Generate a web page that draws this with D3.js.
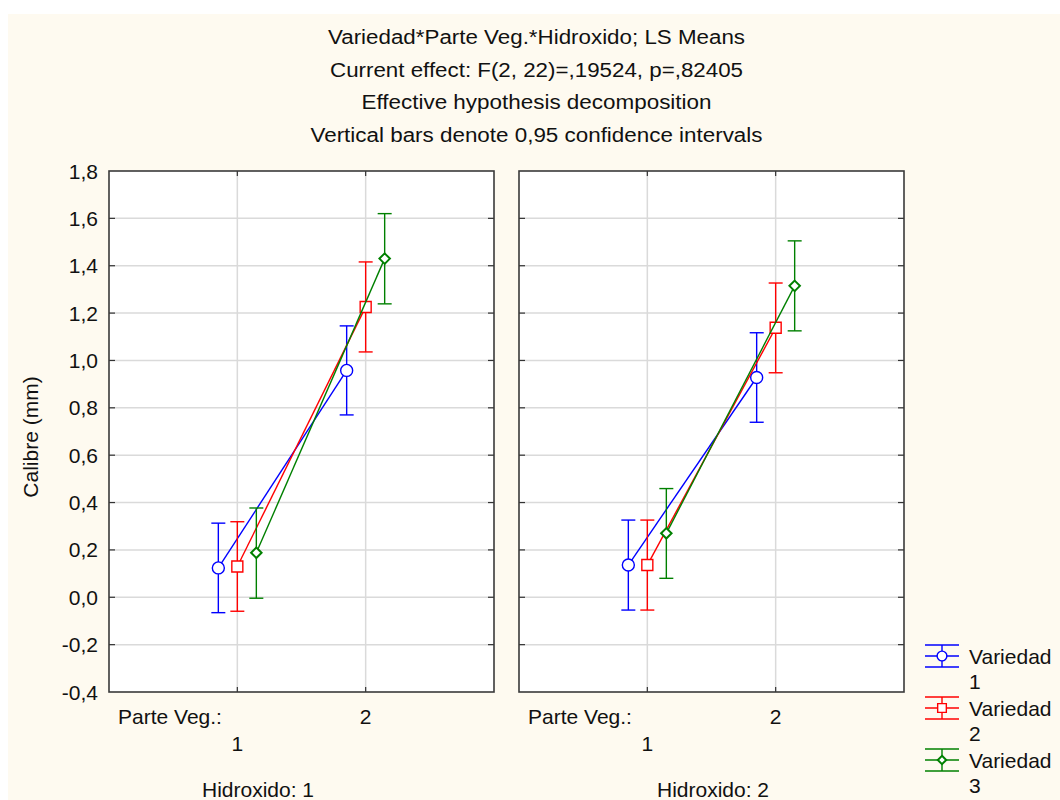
<!DOCTYPE html>
<html>
<head>
<meta charset="utf-8">
<script src="https://cdn.jsdelivr.net/npm/d3@7"></script>
<style>
  html, body { margin: 0; padding: 0; background: #ffffff; }
  svg text { font-family: Arial, "Liberation Sans", sans-serif; fill: #111; }
</style>
</head>
<body>
<svg id="chart" width="1060" height="800"></svg>
<script>
// ---- data ----------------------------------------------------------------
const titleLines = [
  "Variedad*Parte Veg.*Hidroxido; LS Means",
  "Current effect: F(2, 22)=,19524, p=,82405",
  "Effective hypothesis decomposition",
  "Vertical bars denote 0,95 confidence intervals"
];
const varieties = ["Variedad 1", "Variedad 2", "Variedad 3"];
const varietyNum = ["1", "2", "3"];
const parteVeg = ["1", "2"];
const hidroxido = ["1", "2"];
const yTicks = [-0.4, -0.2, 0.0, 0.2, 0.4, 0.6, 0.8, 1.0, 1.2, 1.4, 1.6, 1.8];

// LS means per variety, indexed by Parte Veg. (1, 2)
const meansH1 = [[0.124, 0.958], [0.130, 1.226], [0.188, 1.430]];
const meansH2 = [[0.136, 0.928], [0.136, 1.138], [0.270, 1.315]];
// 0,95 confidence limits
const lowerH1 = [[-0.065, 0.770], [-0.059, 1.036], [-0.004, 1.239]];
const upperH1 = [[0.313, 1.146], [0.319, 1.416], [0.377, 1.620]];
const lowerH2 = [[-0.054, 0.739], [-0.054, 0.948], [0.080, 1.125]];
const upperH2 = [[0.326, 1.117], [0.326, 1.327], [0.459, 1.505]];

const panelData = [
  { hid: hidroxido[0], means: meansH1, lower: lowerH1, upper: upperH1 },
  { hid: hidroxido[1], means: meansH2, lower: lowerH2, upper: upperH2 }
];

// ---- layout ---------------------------------------------------------------
const colors = ["#0000ff", "#ff0000", "#008000"];
const shapes = ["circle", "square", "diamond"];
const panelTop = 171, panelBottom = 692;
const panels = [
  { left: 109, right: 494, labelCenter: 258 },
  { left: 519, right: 904, labelCenter: 713 }
];
const seriesOffset = 19;

const svg = d3.select("#chart");

// background
svg.append("rect").attr("x", 8).attr("y", 14).attr("width", 1052).attr("height", 786)
  .attr("fill", "#fefaf0");

// titles
titleLines.forEach((t, i) => {
  const widths = [417, 413, 350, 452];
  svg.append("text")
    .attr("x", 536.5).attr("y", 44 + i * 32.6)
    .attr("text-anchor", "middle")
    .attr("font-size", 20)
    .attr("textLength", widths[i])
    .attr("lengthAdjust", "spacingAndGlyphs")
    .text(t);
});

const y = d3.scaleLinear().domain([-0.4, 1.8]).range([panelBottom, panelTop]);
const loc = d3.formatLocale({ decimal: ",", thousands: ".", grouping: [3], currency: ["", ""], minus: "-" });
const fmt = loc.format(".1f");

// y tick labels (left side only)
svg.append("g").selectAll("text").data(yTicks).join("text")
  .attr("x", 98).attr("y", d => y(d) + 7.5)
  .attr("text-anchor", "end")
  .attr("font-size", 21)
  .text(d => fmt(d));

// y axis title
svg.append("text")
  .attr("transform", "translate(38,437) rotate(-90)")
  .attr("text-anchor", "middle")
  .attr("font-size", 21)
  .text("Calibre (mm)");

const symbolGen = (shape, size) => {
  if (shape === "circle") return d3.symbol(d3.symbolCircle, size)();
  if (shape === "square") return d3.symbol(d3.symbolSquare, size)();
  return d3.symbol(d3.symbolDiamond2, size)();
};
const markerSize = [113, 121, 70];

panels.forEach((p, pi) => {
  const pd = panelData[pi];
  const x = d3.scalePoint().domain(parteVeg).range([p.left, p.right]).padding(1);
  const g = svg.append("g");

  g.append("rect").attr("x", p.left).attr("y", panelTop)
    .attr("width", p.right - p.left).attr("height", panelBottom - panelTop)
    .attr("fill", "#ffffff");

  // grid
  g.append("g").selectAll("line").data(yTicks.slice(1, -1)).join("line")
    .attr("x1", p.left).attr("x2", p.right)
    .attr("y1", d => y(d)).attr("y2", d => y(d))
    .attr("stroke", "#dadada").attr("stroke-width", 1.5);
  g.append("g").selectAll("line").data(parteVeg).join("line")
    .attr("x1", d => x(d)).attr("x2", d => x(d))
    .attr("y1", panelTop).attr("y2", panelBottom)
    .attr("stroke", "#dadada").attr("stroke-width", 1.5);

  // inward ticks
  const tk = g.append("g").attr("stroke", "#333").attr("stroke-width", 1.2);
  yTicks.slice(1, -1).forEach(v => {
    tk.append("line").attr("x1", p.left).attr("x2", p.left + 6).attr("y1", y(v)).attr("y2", y(v));
    tk.append("line").attr("x1", p.right - 6).attr("x2", p.right).attr("y1", y(v)).attr("y2", y(v));
  });
  parteVeg.forEach(c => {
    tk.append("line").attr("x1", x(c)).attr("x2", x(c)).attr("y1", panelTop).attr("y2", panelTop + 5);
    tk.append("line").attr("x1", x(c)).attr("x2", x(c)).attr("y1", panelBottom - 5).attr("y2", panelBottom);
  });

  // frame
  g.append("rect").attr("x", p.left).attr("y", panelTop)
    .attr("width", p.right - p.left).attr("height", panelBottom - panelTop)
    .attr("fill", "none").attr("stroke", "#3a3a3a").attr("stroke-width", 1.6);

  // series
  varieties.forEach((v, si) => {
    const off = (si - 1) * seriesOffset;
    const pts = parteVeg.map((c, ci) => ({
      x: x(c) + off, m: pd.means[si][ci], lo: pd.lower[si][ci], hi: pd.upper[si][ci]
    }));
    const sg = g.append("g");
    sg.append("path")
      .attr("d", d3.line().x(d => d.x).y(d => y(d.m))(pts))
      .attr("fill", "none").attr("stroke", colors[si]).attr("stroke-width", 1.4);
    const eb = sg.append("g").attr("stroke", colors[si]).attr("stroke-width", 1.4);
    pts.forEach(d => {
      eb.append("line").attr("x1", d.x).attr("x2", d.x).attr("y1", y(d.lo)).attr("y2", y(d.hi));
      eb.append("line").attr("x1", d.x - 7).attr("x2", d.x + 7).attr("y1", y(d.lo)).attr("y2", y(d.lo));
      eb.append("line").attr("x1", d.x - 7).attr("x2", d.x + 7).attr("y1", y(d.hi)).attr("y2", y(d.hi));
    });
    sg.selectAll("path.mk").data(pts).join("path").attr("class", "mk")
      .attr("d", symbolGen(shapes[si], markerSize[si]))
      .attr("transform", d => `translate(${d.x},${y(d.m)})`)
      .attr("fill", "#ffffff").attr("stroke", colors[si])
      .attr("stroke-width", si === 2 ? 2 : 1.4);
  });

  // category labels
  g.append("text").attr("x", p.left + 9).attr("y", 724).attr("font-size", 21).text("Parte Veg.:");
  g.append("text").attr("x", x(parteVeg[0])).attr("y", 751).attr("text-anchor", "middle")
    .attr("font-size", 21).text(parteVeg[0]);
  g.append("text").attr("x", x(parteVeg[1])).attr("y", 724).attr("text-anchor", "middle")
    .attr("font-size", 21).text(parteVeg[1]);
  g.append("text").attr("x", p.labelCenter).attr("y", 797).attr("text-anchor", "middle")
    .attr("font-size", 21).text("Hidroxido: " + pd.hid);
});

// legend
const legend = svg.append("g");
varieties.forEach((v, si) => {
  const cy = 656 + si * 52;
  const lg = legend.append("g").attr("stroke", colors[si]).attr("stroke-width", 1.4);
  lg.append("line").attr("x1", 925).attr("x2", 959).attr("y1", cy - 11).attr("y2", cy - 11);
  lg.append("line").attr("x1", 925).attr("x2", 959).attr("y1", cy).attr("y2", cy);
  lg.append("line").attr("x1", 925).attr("x2", 959).attr("y1", cy + 11).attr("y2", cy + 11);
  lg.append("line").attr("x1", 942).attr("x2", 942).attr("y1", cy - 11).attr("y2", cy + 11);
  lg.append("path").attr("d", symbolGen(shapes[si], si === 2 ? 45 : 75))
    .attr("transform", `translate(942,${cy})`)
    .attr("fill", "#ffffff").attr("stroke-width", si === 2 ? 2 : 1.4);
  legend.append("text").attr("x", 969).attr("y", cy + 7.5).attr("font-size", 21).text(v.split(" ")[0]);
  legend.append("text").attr("x", 969).attr("y", cy + 33).attr("font-size", 21).text(varietyNum[si]);
});
</script>
</body>
</html>
